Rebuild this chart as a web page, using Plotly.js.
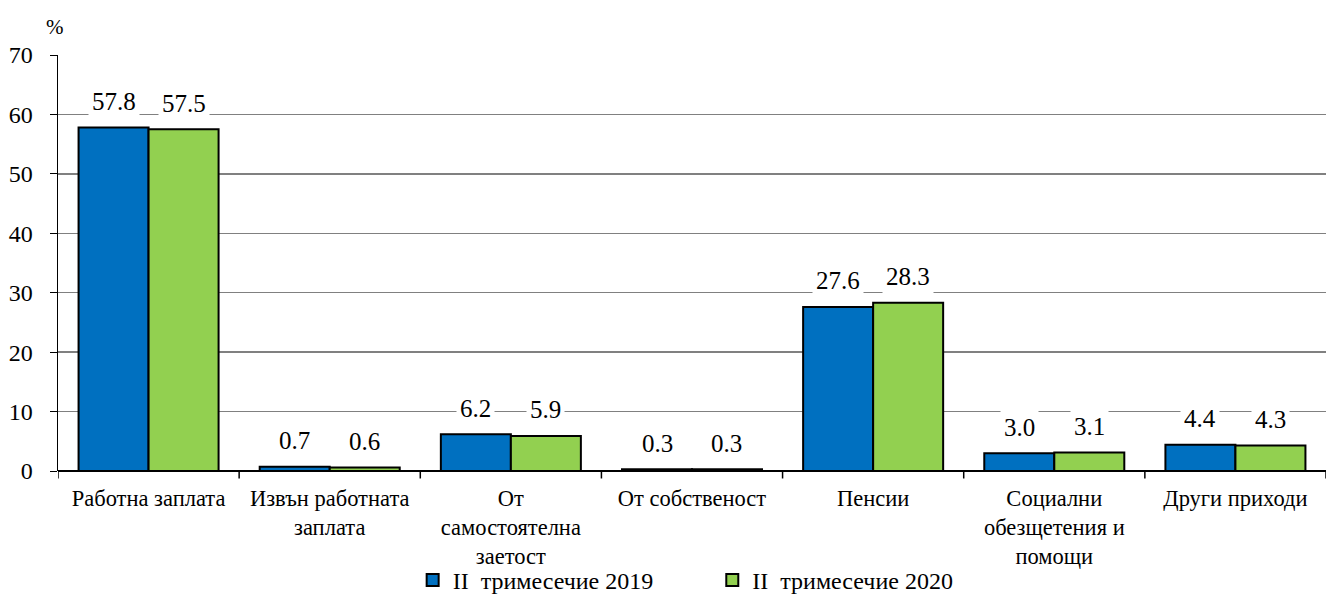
<!DOCTYPE html>
<html><head><meta charset="utf-8">
<script src="https://cdn.plot.ly/plotly-3.0.1.min.js"></script>
<style>html,body{margin:0;padding:0;background:#fff}</style>
</head><body>
<div id="chart" style="width:1326px;height:597px"></div>
<script>
const categories = ["Работна заплата", "Извън работната<br>заплата", "От<br>самостоятелна<br>заетост", "От собственост", "Пенсии", "Социални<br>обезщетения и<br>помощи", "Други приходи"];
const series2019 = [57.8, 0.7, 6.2, 0.3, 27.6, 3.0, 4.4];
const series2020 = [57.5, 0.6, 5.9, 0.3, 28.3, 3.1, 4.3];
const name2019 = "II\u00a0 тримесечие 2019\u00a0\u00a0\u00a0\u00a0\u00a0\u00a0\u00a0\u00a0\u00a0";
const name2020 = "II\u00a0 тримесечие 2020";

const font = "Liberation Serif";
const idx = categories.map((c, i) => i);

const traces = [
  {type: "bar", x: idx, y: series2019, name: name2019,
   marker: {color: "#0070C0", line: {color: "#000", width: 2}}},
  {type: "bar", x: idx, y: series2020, name: name2020,
   marker: {color: "#92D050", line: {color: "#000", width: 2}}}
];

const annotations = [];
const off = 0.193;
series2019.forEach((v, i) => annotations.push({x: i - off, y: v, xref: "x", yref: "y", text: v.toFixed(1),
  showarrow: false, yshift: 26, bgcolor: "#fff", borderpad: 3, font: {family: font, size: 25, color: "#000"}}));
series2020.forEach((v, i) => annotations.push({x: i + off, y: v, xref: "x", yref: "y", text: v.toFixed(1),
  showarrow: false, yshift: 26, bgcolor: "#fff", borderpad: 3, font: {family: font, size: 25, color: "#000"}}));
annotations.push({xref: "paper", yref: "paper", x: -0.002, y: 1.0, yshift: 28, xanchor: "center", yanchor: "middle",
  text: "%", showarrow: false, font: {family: font, size: 21, color: "#000"}});

const layout = {
  width: 1326, height: 597,
  margin: {l: 58, r: 0, t: 55, b: 126, autoexpand: false},
  paper_bgcolor: "#fff", plot_bgcolor: "#fff",
  barmode: "group", bargap: 0.227, bargroupgap: 0,
  font: {family: font, color: "#000"},
  showlegend: true,
  legend: {orientation: "h", x: 0.495, xanchor: "center", y: -0.263, yanchor: "middle",
    bgcolor: "rgba(0,0,0,0)", font: {family: font, size: 24, color: "#000"}, itemwidth: 30, traceorder: "normal"},
  xaxis: {type: "linear", tickmode: "array", tickvals: idx, ticktext: categories, range: [-0.5, 6.5],
    showgrid: false, zeroline: false, showline: false, ticks: "", automargin: false, ticklabelstandoff: 11,
    tickfont: {family: font, size: 22.5, color: "#000"}, fixedrange: true},
  yaxis: {range: [0, 70], tickvals: [0,10,20,30,40,50,60,70], showgrid: true, gridcolor: "#808080", gridwidth: 1.5,
    zeroline: true, zerolinecolor: "#000", zerolinewidth: 1.5, automargin: false, ticklabelstandoff: 12,
    showline: true, linecolor: "#000", linewidth: 1.5, ticks: "outside", ticklen: 7, tickcolor: "#000",
    tickfont: {family: font, size: 24, color: "#000"}},
  shapes: [0,1,2,3,4,5,6,7].map(k => ({type: "line", xref: "x", yref: "paper", x0: k - 0.5, x1: k - 0.5,
     y0: 0, y1: -0.018, line: {color: "#000", width: 1.5}})),
  annotations: annotations
};

Plotly.newPlot("chart", traces, layout, {displayModeBar: false, staticPlot: true});
</script>
</body></html>
